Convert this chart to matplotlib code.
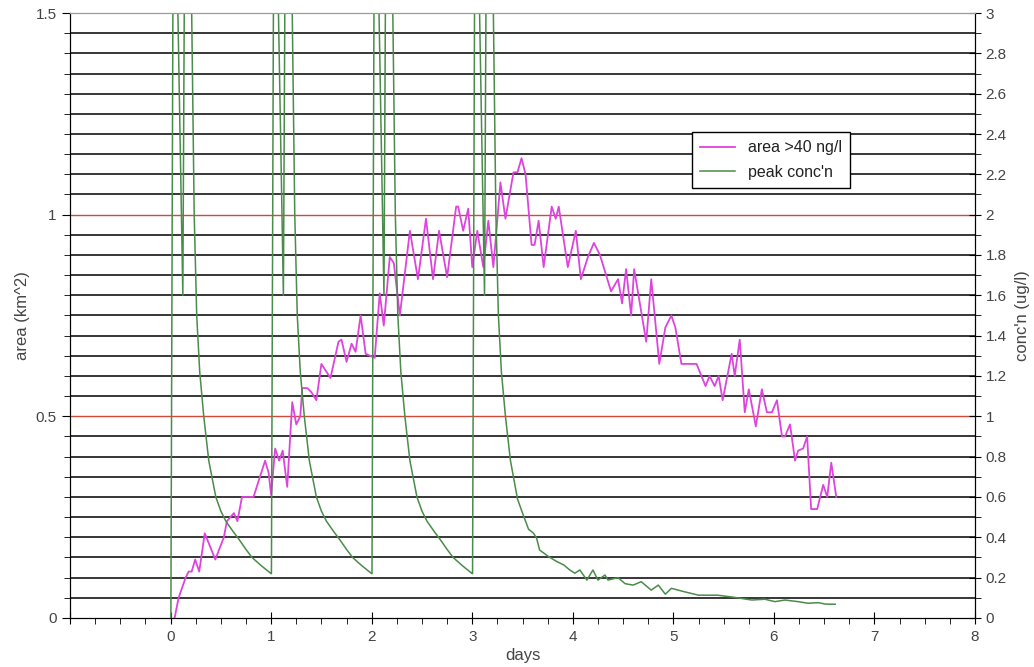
import matplotlib
matplotlib.use("Agg")
import matplotlib.pyplot as plt
from matplotlib.ticker import MultipleLocator, FuncFormatter

# area above 40 ng/l (left axis, km^2)
area_days = [0.04, 0.08, 0.15, 0.18, 0.21, 0.245, 0.285, 0.34, 0.445, 0.53,
             0.56, 0.63, 0.665, 0.71, 0.745, 0.825, 0.94, 0.975, 1.0, 1.04,
             1.08, 1.115, 1.16, 1.21, 1.25, 1.29, 1.31, 1.36, 1.40, 1.45,
             1.50, 1.59, 1.67, 1.70, 1.75, 1.80, 1.84, 1.89, 1.94, 2.03,
             2.08, 2.12, 2.18, 2.22, 2.28, 2.38, 2.46, 2.54, 2.61, 2.67,
             2.75, 2.84, 2.86, 2.91, 2.96, 3.00, 3.05, 3.11, 3.16, 3.21,
             3.28, 3.33, 3.41, 3.45, 3.49, 3.53, 3.59, 3.62, 3.66, 3.71,
             3.79, 3.83, 3.86, 3.95, 4.03, 4.08, 4.15, 4.21, 4.27, 4.38,
             4.45, 4.49, 4.53, 4.58, 4.61, 4.67, 4.73, 4.78, 4.86, 4.92,
             4.98, 5.02, 5.08, 5.23, 5.32, 5.36, 5.41, 5.45, 5.49, 5.58,
             5.61, 5.66, 5.71, 5.75, 5.82, 5.88, 5.93, 5.98, 6.03, 6.08,
             6.11, 6.16, 6.21, 6.24, 6.29, 6.33, 6.37, 6.43, 6.49, 6.53,
             6.57, 6.62]
area_km2 = [0.0, 0.05, 0.10, 0.115, 0.115, 0.145, 0.115, 0.21, 0.145, 0.20,
            0.24, 0.26, 0.24, 0.30, 0.30, 0.30, 0.39, 0.36, 0.305, 0.42,
            0.39, 0.415, 0.325, 0.535, 0.48, 0.50, 0.57, 0.57, 0.56, 0.54,
            0.63, 0.595, 0.685, 0.69, 0.635, 0.68, 0.66, 0.75, 0.655, 0.645,
            0.805, 0.725, 0.895, 0.88, 0.75, 0.96, 0.84, 0.99, 0.84, 0.96,
            0.845, 1.02, 1.02, 0.96, 1.015, 0.87, 0.96, 0.87, 0.985, 0.87,
            1.08, 0.99, 1.105, 1.105, 1.14, 1.10, 0.925, 0.925, 0.985, 0.87,
            1.02, 0.99, 1.02, 0.87, 0.96, 0.84, 0.895, 0.93, 0.90, 0.81,
            0.84, 0.78, 0.865, 0.75, 0.865, 0.775, 0.685, 0.84, 0.63, 0.72,
            0.75, 0.72, 0.63, 0.63, 0.575, 0.60, 0.575, 0.60, 0.54, 0.655,
            0.60, 0.69, 0.51, 0.567, 0.475, 0.567, 0.51, 0.51, 0.54, 0.45,
            0.45, 0.48, 0.39, 0.415, 0.42, 0.45, 0.27, 0.27, 0.33, 0.30,
            0.385, 0.30]

# peak concentration (right axis, ug/l); values above 3 run off the chart
peak_days = [0.003, 0.031, 0.122, 0.153, 0.21, 0.235, 0.26, 0.29, 0.33, 0.38,
             0.45, 0.50, 0.55, 0.62, 0.68, 0.75, 0.81, 0.90, 1.00,
             1.003, 1.031, 1.122, 1.153, 1.21, 1.235, 1.26, 1.29, 1.33, 1.38,
             1.45, 1.50, 1.55, 1.62, 1.68, 1.75, 1.81, 1.90, 2.00,
             2.003, 2.031, 2.122, 2.153, 2.21, 2.235, 2.26, 2.29, 2.33, 2.38,
             2.45, 2.50, 2.55, 2.62, 2.68, 2.75, 2.81, 2.90, 3.00,
             3.003, 3.031, 3.122, 3.153, 3.21, 3.235, 3.26, 3.29, 3.33, 3.38,
             3.45, 3.50, 3.56, 3.61, 3.64, 3.67, 3.76, 3.84, 3.91, 3.97,
             4.02, 4.07, 4.14, 4.20, 4.25, 4.32, 4.35, 4.45, 4.52, 4.60,
             4.68, 4.78, 4.85, 4.92, 4.98, 5.11, 5.25, 5.44, 5.61, 5.78,
             5.91, 6.01, 6.11, 6.24, 6.34, 6.44, 6.51, 6.61]
peak_conc = [0.0, 4.2, 1.6, 4.7, 3.0, 2.0, 1.5, 1.22, 1.0, 0.78,
             0.60, 0.53, 0.48, 0.43, 0.39, 0.34, 0.30, 0.26, 0.22,
             0.22, 4.2, 1.6, 4.7, 3.0, 2.0, 1.5, 1.22, 1.0, 0.78,
             0.60, 0.53, 0.48, 0.43, 0.39, 0.34, 0.30, 0.26, 0.22,
             0.22, 4.2, 1.6, 4.7, 3.0, 2.0, 1.5, 1.22, 1.0, 0.78,
             0.60, 0.53, 0.48, 0.43, 0.39, 0.34, 0.30, 0.26, 0.22,
             0.22, 4.2, 1.6, 4.7, 3.0, 2.0, 1.5, 1.22, 1.0, 0.78,
             0.59, 0.52, 0.44, 0.42, 0.395, 0.337, 0.304, 0.28, 0.263, 0.238,
             0.222, 0.238, 0.188, 0.238, 0.188, 0.213, 0.188, 0.20, 0.17, 0.163,
             0.18, 0.138, 0.163, 0.118, 0.147, 0.13, 0.113, 0.113, 0.102, 0.089,
             0.093, 0.081, 0.089, 0.081, 0.073, 0.076, 0.069, 0.068]

red_levels = [0.5, 1.0]

plt.rcParams['font.family'] = ['Liberation Sans', 'DejaVu Sans']
txt = '#444444'

fig = plt.figure(figsize=(10.34, 6.67), dpi=100)
ax = fig.add_axes([0.0677, 0.0735, 0.8753, 0.907])
ax2 = ax.twinx()

# horizontal grid, every 0.05 on the left scale
ax.yaxis.set_major_locator(MultipleLocator(0.5))
ax.yaxis.set_minor_locator(MultipleLocator(0.05))
ax.grid(which='minor', axis='y', color='black', lw=1.1)
ax.grid(which='major', axis='y', visible=False)
for lv in red_levels:
    ax.axhline(lv, color='#d04a3a', lw=1.0, zorder=1.6)

ax.plot(area_days, area_km2, color='#dd44dd', lw=1.3, label='area >40 ng/l')
ax2.plot(peak_days, peak_conc, color='#4a8c4a', lw=1.1, label="peak conc'n")

ax.set_xlim(-1, 8)
ax.set_ylim(0, 1.5)
ax2.set_ylim(0, 3)

ax.xaxis.set_major_locator(MultipleLocator(1))
ax.xaxis.set_minor_locator(MultipleLocator(0.25))
ax.xaxis.set_major_formatter(FuncFormatter(lambda v, p: '' if v < 0 else '%g' % v))
ax.yaxis.set_major_formatter(FuncFormatter(lambda v, p: '%g' % v))
ax2.yaxis.set_major_locator(MultipleLocator(0.2))
ax2.yaxis.set_minor_locator(MultipleLocator(0.1))
ax2.yaxis.set_major_formatter(FuncFormatter(lambda v, p: '%g' % round(v, 1)))

ax.tick_params(axis='x', which='major', direction='inout', length=9, labelsize=11, labelcolor=txt, pad=4)
ax.tick_params(axis='x', which='minor', direction='out', length=4)
ax.tick_params(axis='y', which='major', direction='out', length=6, labelsize=11, labelcolor=txt)
ax.tick_params(axis='y', which='minor', direction='out', length=4)
ax2.tick_params(axis='y', which='major', direction='inout', length=8, labelsize=11, labelcolor=txt)
ax2.tick_params(axis='y', which='minor', direction='out', length=4)

for a in (ax, ax2):
    a.spines['top'].set_color('#9a9a9a')

ax.set_xlabel('days', fontsize=12, color=txt, labelpad=3)
ax.set_ylabel('area (km^2)', fontsize=12, color=txt, labelpad=4)
ax2.set_ylabel("conc'n (ug/l)", fontsize=12, color=txt, labelpad=6)

h1, l1 = ax.get_legend_handles_labels()
h2, l2 = ax2.get_legend_handles_labels()
leg = ax2.legend(h1 + h2, l1 + l2, loc='upper left', bbox_to_anchor=(0.678, 0.816),
                 fontsize=11.5, frameon=True, fancybox=False, framealpha=1,
                 edgecolor='black', handlelength=2.2, borderpad=0.5, labelspacing=0.6)
leg.get_frame().set_linewidth(1.0)
for t in leg.get_texts():
    t.set_color('#222222')

fig.savefig('out.png', dpi=100)
